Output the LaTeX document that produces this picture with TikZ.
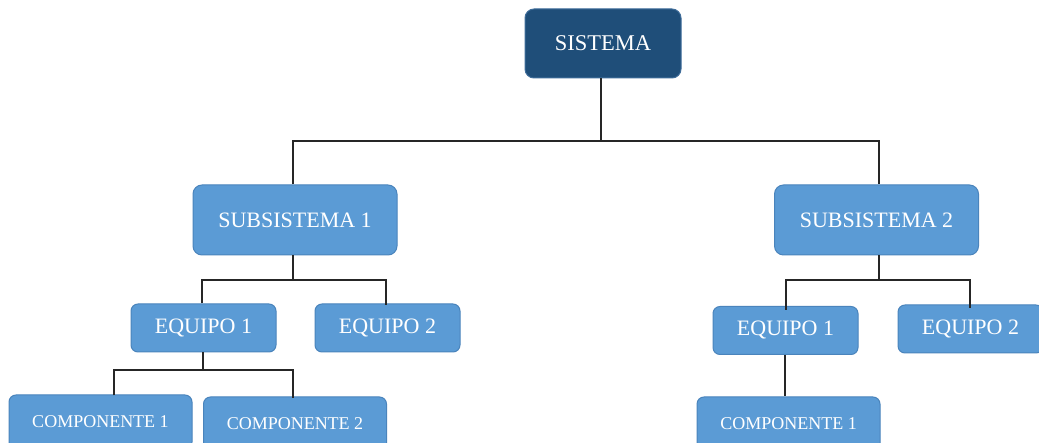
\documentclass[tikz,border=0pt]{standalone}
\usepackage{fontspec}
\setmainfont{Liberation Serif}
\definecolor{topfill}{HTML}{1F4E79}
\definecolor{topedge}{HTML}{3F6D9A}
\definecolor{boxfill}{HTML}{5B9BD5}
\definecolor{boxedge}{HTML}{4A84BC}
\definecolor{wire}{HTML}{262626}
\begin{document}
\begin{tikzpicture}[x=1pt,y=-1pt,
  topbox/.style={draw=topedge,fill=topfill,line width=1pt,rounded corners=9pt,
    minimum width=156pt,minimum height=69pt,inner sep=0pt,text=white,font=\fontsize{22.5}{22.5}\selectfont},
  subbox/.style={draw=boxedge,fill=boxfill,line width=1pt,rounded corners=9pt,
    minimum width=204pt,minimum height=70pt,inner sep=0pt,text=white,font=\fontsize{22}{22}\selectfont},
  eqbox/.style={draw=boxedge,fill=boxfill,line width=1pt,rounded corners=7pt,
    minimum width=145pt,minimum height=48pt,inner sep=0pt,text=white,font=\fontsize{22}{22}\selectfont},
  compbox/.style={draw=boxedge,fill=boxfill,line width=1pt,rounded corners=7pt,
    minimum width=183pt,minimum height=54pt,inner sep=0pt,text=white,font=\fontsize{18}{18}\selectfont},
  link/.style={draw=wire,line width=1.3pt}]
\clip (0,0) rectangle (1039,443);
\fill[white] (0,0) rectangle (1039,443);

% levels of the hierarchy
\node[topbox] (sis) at (603,43.5) {SISTEMA};
\node[subbox] (sub1) at (295,220) {SUBSISTEMA 1};
\node[subbox] (sub2) at (876.5,220) {SUBSISTEMA 2};
\node[eqbox] (eqa1) at (203.5,328) {EQUIPO 1};
\node[eqbox] (eqa2) at (387.5,328) {EQUIPO 2};
\node[eqbox] (eqb1) at (785.5,330.5) {EQUIPO 1};
\node[eqbox] (eqb2) at (970.5,329) {EQUIPO 2};
\node[compbox] (ca1) at (100.5,422) {COMPONENTE 1};
\node[compbox] (ca2) at (295,424) {COMPONENTE 2};
\node[compbox] (cb1) at (788.5,424) {COMPONENTE 1};

% branching lines
\coordinate (bus0) at (601,141);
\coordinate (bus1) at (293,280);
\coordinate (bus2) at (879,280);
\coordinate (bus3) at (203,370);
\coordinate (k1) at (114,370);
\coordinate (k2) at (293,370);
\coordinate (m1) at (202,280);
\coordinate (m2) at (386,280);
\coordinate (n1) at (786,280);
\coordinate (n2) at (970,280);
\coordinate (v1) at (785,355);

\draw[link] (sis.south -| bus0) -- (bus0);
\draw[link] (sub1.north -| bus1) -- (bus1 |- bus0) -- (bus2 |- bus0) -- (sub2.north -| bus2);

\draw[link] (sub1.south -| bus1) -- (bus1);
\draw[link] (eqa1.north -| m1) -- (m1) -- (m2) -- ([yshift=-2pt]eqa2.north -| m2);

\draw[link] (sub2.south -| bus2) -- (bus2);
\draw[link] ([yshift=-4pt]eqb1.north -| n1) -- (n1) -- (n2) -- ([yshift=-4pt]eqb2.north -| n2);

\draw[link] (eqa1.south -| bus3) -- (bus3);
\draw[link] ([yshift=-1pt]ca1.north -| k1) -- (k1) -- (k2) -- ([yshift=-2pt]ca2.north -| k2);

\draw[link] (eqb1.south -| v1) -- (cb1.north -| v1);
\end{tikzpicture}
\end{document}
